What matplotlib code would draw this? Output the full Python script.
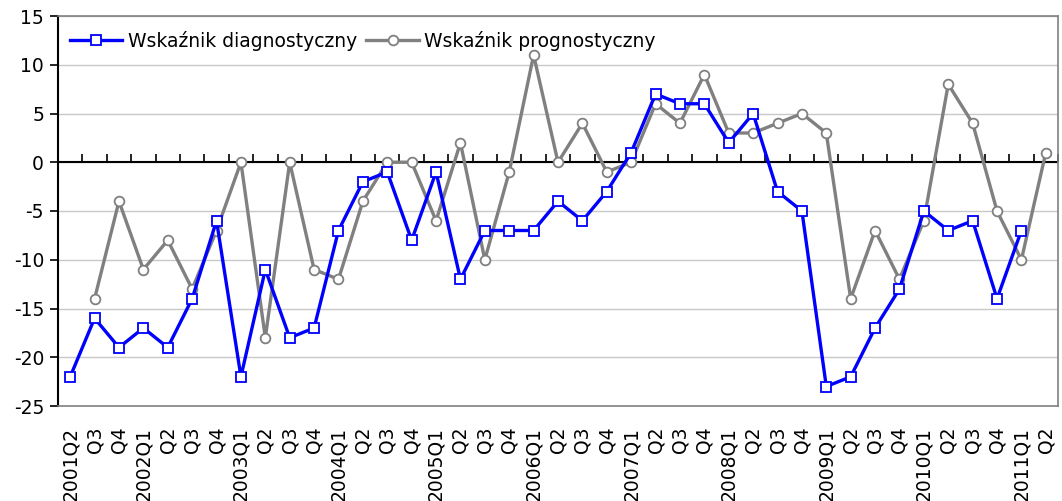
import matplotlib

matplotlib.use("Agg")
import matplotlib.pyplot as plt
import numpy as np

# quarters 2001Q2 .. 2011Q2
quarters = ["2001Q2", "Q3", "Q4",
            "2002Q1", "Q2", "Q3", "Q4",
            "2003Q1", "Q2", "Q3", "Q4",
            "2004Q1", "Q2", "Q3", "Q4",
            "2005Q1", "Q2", "Q3", "Q4",
            "2006Q1", "Q2", "Q3", "Q4",
            "2007Q1", "Q2", "Q3", "Q4",
            "2008Q1", "Q2", "Q3", "Q4",
            "2009Q1", "Q2", "Q3", "Q4",
            "2010Q1", "Q2", "Q3", "Q4",
            "2011Q1", "Q2"]

diagnostyczny = [-22, -16, -19,
                 -17, -19, -14, -6,
                 -22, -11, -18, -17,
                 -7, -2, -1, -8,
                 -1, -12, -7, -7,
                 -7, -4, -6, -3,
                 1, 7, 6, 6,
                 2, 5, -3, -5,
                 -23, -22, -17, -13,
                 -5, -7, -6, -14,
                 -7, np.nan]

prognostyczny = [np.nan, -14, -4,
                 -11, -8, -13, -7,
                 0, -18, 0, -11,
                 -12, -4, 0, 0,
                 -6, 2, -10, -1,
                 11, 0, 4, -1,
                 0, 6, 4, 9,
                 3, 3, 4, 5,
                 3, -14, -7, -12,
                 -6, 8, 4, -5,
                 -10, 1]

FS = 13.5
plt.rcParams["font.family"] = ["DejaVu Sans"]
plt.rcParams["axes.unicode_minus"] = False

fig = plt.figure(figsize=(10.62, 5.01), dpi=100)
ax = fig.add_axes([58 / 1062, 95 / 501, 1000 / 1062, 390 / 501])

x = np.arange(len(quarters))
ax.plot(x, diagnostyczny, color="#0000ff", linewidth=2.4, marker="s", markersize=7,
        markerfacecolor="white", markeredgecolor="#0000ff", markeredgewidth=1.3,
        label="Wskaźnik diagnostyczny", zorder=4)
ax.plot(x, prognostyczny, color="#808080", linewidth=2.4, marker="o", markersize=7,
        markerfacecolor="white", markeredgecolor="#808080", markeredgewidth=1.3,
        label="Wskaźnik prognostyczny", zorder=3)

ax.set_xlim(-0.5, len(quarters) - 0.5)
ax.set_ylim(-25, 15)
ax.set_yticks(np.arange(-25, 16, 5))
ax.yaxis.grid(True, color="#c8c8c8", linewidth=1)
ax.set_axisbelow(True)
ax.tick_params(axis="y", direction="out", length=6, width=1.2, labelsize=FS, pad=4)

ax.set_xticks(x)
ax.set_xticklabels(quarters, rotation=90, fontsize=FS, va="top")
ax.tick_params(axis="x", length=0, pad=15)

for side in ("top", "right", "bottom"):
    ax.spines[side].set_color("#808080")
    ax.spines[side].set_linewidth(1.2)
ax.spines["left"].set_color("black")
ax.spines["left"].set_linewidth(1.5)

# category axis crossing at zero, with tick marks between categories
ax.axhline(0, color="black", linewidth=1.5, zorder=2.5)
zero = ax.secondary_xaxis(25 / 40)
zero.set_xticks(np.arange(-0.5, len(quarters), 1.0))
zero.set_xticklabels([])
zero.tick_params(direction="out", length=6, width=1.2, color="black")
for s in zero.spines.values():
    s.set_visible(False)

ax.legend(loc="upper left", ncol=2, frameon=False, fontsize=FS, handlelength=2.8,
          handletextpad=0.3, columnspacing=0.5, borderaxespad=0.0,
          bbox_to_anchor=(0.004, 0.981))

fig.savefig("out.png", dpi=100)
